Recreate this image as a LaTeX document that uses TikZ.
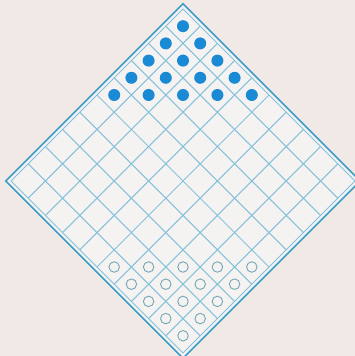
\documentclass[tikz,border=0pt]{standalone}
\usepackage{tikz}
\usetikzlibrary{positioning}
\definecolor{paper}{HTML}{F0E9E6}
\definecolor{cellfill}{HTML}{F5F2F2}
\definecolor{rimblue}{HTML}{3E9DC8}
\definecolor{gridblue}{HTML}{84C1DA}
\definecolor{dotblue}{HTML}{1A8AD4}
\definecolor{ringteal}{HTML}{74A7B5}

\begin{document}
\begin{tikzpicture}[x=1pt,y=1pt,
 board/.style={draw=rimblue,line width=1.6pt,fill=cellfill,line join=miter},
 gridline/.style={draw=gridblue,line width=1pt},
 dark piece/.style={circle,fill=dotblue,minimum size=12pt,inner sep=0pt},
 light piece/.style={circle,draw=ringteal,line width=.9pt,minimum size=10.5pt,inner sep=0pt}]
\fill[paper] (0,0) rectangle (355,356);
\useasboundingbox (0,0) rectangle (355,356);
\begin{scope}[shift={(183pt,347pt)},x={(17.2pt,-17.2pt)},y={(-17.2pt,-17.2pt)}]
\draw[board] (-.15,-.15) -- (10.15,-.15) -- (10.15,10.15) -- (-.15,10.15) -- cycle;
\foreach \k in {0,...,10} {
  \draw[gridline] (\k,0) -- (\k,10);
  \draw[gridline] (0,\k) -- (10,\k);
}
% pieces on the cells
\foreach \i in {0,...,9} \foreach \j in {0,...,9} {
  \pgfmathtruncatemacro\s{\i+\j}
  \ifnum\s<5 \node[dark piece] (d\i\j) at (\i+.5,\j+.5) {}; \fi
  \ifnum\s>13 \node[light piece] (l\i\j) at (\i+.5,\j+.5) {}; \fi
}
\end{scope}
\end{tikzpicture}
\end{document}
